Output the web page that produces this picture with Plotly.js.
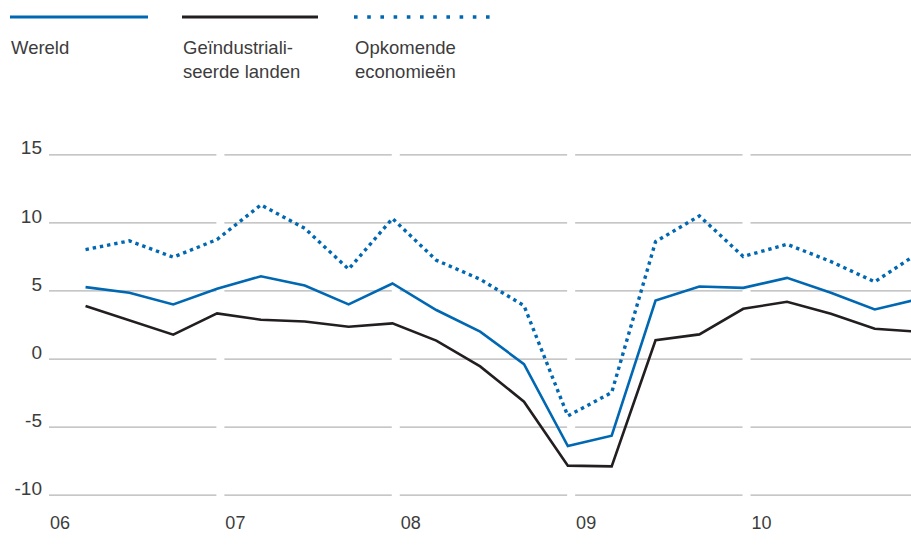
<!DOCTYPE html>
<html>
<head>
<meta charset="utf-8">
<script src="https://cdn.plot.ly/plotly-3.0.1.min.js"></script>
<style>
html,body{margin:0;padding:0;background:#fff;}
#chart{width:911px;height:556px;}
</style>
</head>
<body>
<div id="chart"></div>
<script>
// ---- data (quarterly, 2006Q1 .. 2010Q4) ----
var quarters = ["2006Q1","2006Q2","2006Q3","2006Q4","2007Q1","2007Q2","2007Q3","2007Q4",
                "2008Q1","2008Q2","2008Q3","2008Q4","2009Q1","2009Q2","2009Q3","2009Q4",
                "2010Q1","2010Q2","2010Q3","2010Q4"];
var wereld = [5.28, 4.87, 4.01, 5.16, 6.08, 5.40, 4.01, 5.55, 3.60, 2.01, -0.37, -6.39, -5.63, 4.30, 5.33, 5.23, 5.96, 4.87, 3.64, 4.4];
var geindustrialiseerd = [3.89, 2.86, 1.79, 3.35, 2.89, 2.76, 2.37, 2.62, 1.35, -0.54, -3.13, -7.83, -7.88, 1.38, 1.81, 3.69, 4.21, 3.33, 2.23, 2.0];
var opkomend = [8.04, 8.68, 7.48, 8.78, 11.32, 9.60, 6.60, 10.32, 7.26, 5.86, 3.92, -4.18, -2.46, 8.62, 10.51, 7.53, 8.43, 7.16, 5.67, 7.8];
var seriesNames = ["Wereld", "Geïndustriali-<br>seerde landen", "Opkomende<br>economieën"];
var yearTicks = [2006, 2007, 2008, 2009, 2010];
var yearLabels = ["06", "07", "08", "09", "10"];
var yTicks = [-10, -5, 0, 5, 10, 15];

// ---- layout constants ----
var W = 911, H = 556;
var M = {l: 49, r: 0, t: 148, b: 54};
var xRange = [2006, 2010.915];
var yRange = [-10.5, 15.5];
var BLUE = "#0068b3", BLACK = "#231f20", GRID = "#b4b4b4", TEXT = "#3c3c3c";
var FONT = "Liberation Sans, Arial, sans-serif";

// plotted at middle of last month of each quarter
function qToX(q) {
  var y = parseInt(q.slice(0, 4), 10), n = parseInt(q.slice(5), 10);
  return y + (n * 3 - 0.5) / 12;
}
var xs = quarters.map(qToX);

var traces = [
  {x: xs, y: wereld, name: "Wereld", mode: "lines", line: {color: BLUE, width: 2.6}, hoverinfo: "skip"},
  {x: xs, y: geindustrialiseerd, name: "Geïndustrialiseerde landen", mode: "lines", line: {color: BLACK, width: 2.6}, hoverinfo: "skip"},
  {x: xs, y: opkomend, name: "Opkomende economieën", mode: "lines", line: {color: BLUE, width: 3.4, dash: "3.4px,3.9px"}, hoverinfo: "skip"}
];

var plotW = W - M.l - M.r, plotH = H - M.t - M.b;
function pxX(px) { return (px - M.l) / plotW; }
function pxY(py) { return (H - M.b - py) / plotH; }

var shapes = [];
// broken gridlines: one segment per year
var gapYears = 8 / (plotW / (xRange[1] - xRange[0]));
yTicks.forEach(function (v) {
  yearTicks.forEach(function (yr) {
    shapes.push({type: "line", xref: "x", yref: "y", layer: "below",
      x0: yr, x1: Math.min(yr + 1 - gapYears, xRange[1]), y0: v, y1: v,
      line: {color: GRID, width: 1.2}});
  });
});

// custom legend (line sample above the label)
var legendItems = [
  {x0: 10, x1: 148, color: BLUE, width: 3, dash: "solid"},
  {x0: 182, x1: 318, color: BLACK, width: 3, dash: "solid"},
  {x0: 354, x1: 490, color: BLUE, width: 3.6, dash: "3.6px,9.6px"}
];
var annotations = [];
legendItems.forEach(function (it, i) {
  shapes.push({type: "line", xref: "paper", yref: "paper",
    x0: pxX(it.x0), x1: pxX(it.x1), y0: pxY(17), y1: pxY(17),
    line: {color: it.color, width: it.width, dash: it.dash}});
  annotations.push({xref: "paper", yref: "paper", x: pxX(it.x0 - 1), y: pxY(35),
    xanchor: "left", yanchor: "top", align: "left", showarrow: false,
    text: seriesNames[i], font: {family: FONT, size: 18.5, color: TEXT}});
});

var layout = {
  width: W, height: H,
  margin: M,
  paper_bgcolor: "#fff", plot_bgcolor: "#fff",
  showlegend: false,
  font: {family: FONT, size: 18, color: TEXT},
  xaxis: {
    range: xRange, showgrid: false, zeroline: false, showline: false,
    tickmode: "array", tickvals: yearTicks, ticktext: yearLabels,
    ticks: "", ticklabelshift: 11, ticklabelstandoff: 8,
    tickfont: {family: FONT, size: 18, color: TEXT}, fixedrange: true
  },
  yaxis: {
    range: yRange, showgrid: false, zeroline: false, showline: false,
    tickmode: "array", tickvals: yTicks, ticktext: yTicks.map(String),
    ticks: "", ticklabelshift: -7, ticklabelstandoff: 6,
    tickfont: {family: FONT, size: 19, color: TEXT}, fixedrange: true
  },
  shapes: shapes,
  annotations: annotations
};

Plotly.newPlot("chart", traces, layout, {displayModeBar: false, staticPlot: true});
</script>
</body>
</html>
